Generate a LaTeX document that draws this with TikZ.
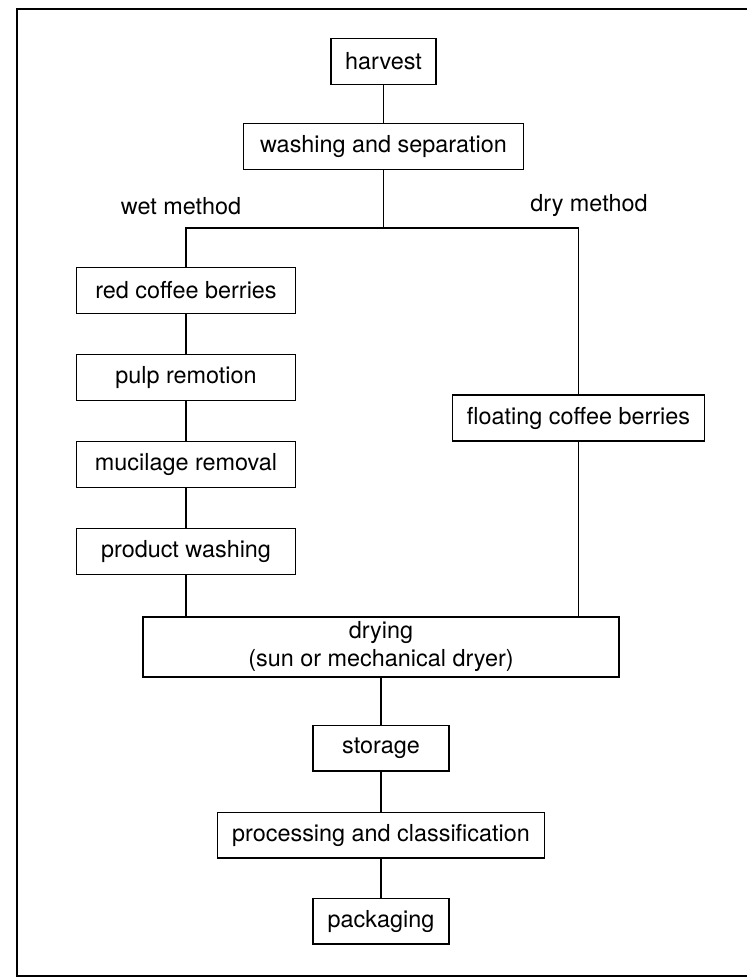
\documentclass[tikz,border=0pt]{standalone}
\usepackage{fontspec}
\setmainfont{TeX Gyre Heros}
\usepackage{tikz}
\usetikzlibrary{positioning}

\begin{document}
\begin{tikzpicture}[
  every node/.style = {font=\fontsize{11.7}{14}\selectfont},
  %--- node styles ---------------------------------------------------
  stepbox/.style  = {draw, line width=0.7pt, rectangle,
                     minimum height=22.8pt, inner sep=0pt,
                     align=center},
  wetbox/.style   = {stepbox, minimum width=109.5pt},
  tagst/.style    = {inner sep=0pt},
  link/.style     = {line width=0.55pt},
  frame/.style    = {line width=0.9pt},
]
\useasboundingbox (0,0) rectangle (373.5pt,-488.5pt);

% ---- Frame --------------------------------------------------------
\draw[frame] (373.5pt,-4.5pt) -- (8.5pt,-4.5pt) -- (8.5pt,-488pt)
             -- (373.5pt,-488pt);

% ---- Nodes --------------------------------------------------------
\node[stepbox, minimum width=52.5pt] (harvest) at (191.75pt,-30.75pt)
    {harvest};

\node[stepbox, minimum width=140pt, below=19pt of harvest] (wash)
    {washing and separation};

\node[tagst] (wetlbl) at (90.5pt,-103pt) {wet method};
\node[tagst] (drylbl) at (294.5pt,-103pt) {dry method};

\node[wetbox] (red) at (93pt,-145.25pt) {red coffee berries};
\node[wetbox, below=20pt of red]   (pulp)  {pulp remotion};
\node[wetbox, below=20pt of pulp]  (muci)  {mucilage removal};
\node[wetbox, below=20pt of muci]  (prodw) {product washing};

\node[stepbox, minimum width=126pt] (float) at (289.25pt,-209pt)
    {floating coffee berries};

\node[stepbox, minimum width=238pt, minimum height=30pt] (dry)
    at (190.5pt,-323.5pt)
    {drying\\(sun or mechanical dryer)};

\node[stepbox, minimum width=68pt, below=23.5pt of dry] (store)
    {storage};
\node[stepbox, minimum width=163.5pt, below=20pt of store] (proc)
    {processing and classification};
\node[stepbox, minimum width=68pt, below=19.5pt of proc] (pack)
    {packaging};

\coordinate (fork) at (wash.south |- 0,-114pt);

% ---- Connectors ---------------------------------------------------
\draw[link] (harvest) -- (wash);
\draw[link] (wash)    -- (fork);
\draw[link] (red.north) |- (fork) -| (float.north);
\draw[link] (red)     -- (pulp);
\draw[link] (pulp)    -- (muci);
\draw[link] (muci)    -- (prodw);
\draw[link] (prodw.south) -- (prodw.south |- dry.north);
\draw[link] (float.south) -- (float.south |- dry.north);
\draw[link] (dry)     -- (store);
\draw[link] (store)   -- (proc);
\draw[link] (proc)    -- (pack);

\end{tikzpicture}
\end{document}
